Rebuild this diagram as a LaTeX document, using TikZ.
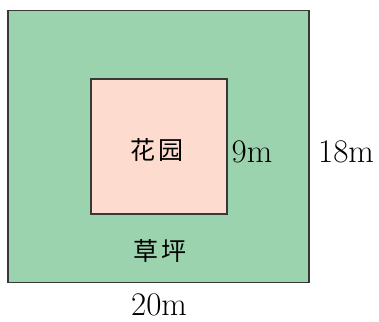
\documentclass[tikz,border=0pt]{standalone}
\usepackage{fontspec}
\newfontfamily\cjk{Noto Sans CJK SC}
\definecolor{lawn}{HTML}{9BD3AE}
\definecolor{garden}{HTML}{FDDCCF}
\definecolor{edge}{HTML}{383838}

\begin{document}
\begin{tikzpicture}[x=1pt,y=-1pt,
    field/.style={draw=edge,line width=1.3pt},
    dim/.style={font=\fontsize{33}{38}\selectfont,inner sep=0pt,anchor=base},
    word/.style={font=\cjk\fontsize{25}{29}\selectfont,inner sep=0pt}]

   % Frame
   \useasboundingbox (0,0) rectangle (379,321);

   % Lawn and garden
   \draw[field,fill=lawn] (8,10.5) rectangle (309,282.5);
   \draw[field,fill=garden] (91,79) rectangle (227,214);

   % Labels
   \node[word] (gardenlabel) at (157,150) {花\hspace{3pt}园};
   \node[word] (lawnlabel) at (160,251) {草\hspace{3pt}坪};

   % Lengths
   \node[dim] (side) at (252,162) {9m};
   \node[dim] (height) at (346,162) {18m};
   \node[dim] (width) at (159,315) {20m};

\end{tikzpicture}
\end{document}
